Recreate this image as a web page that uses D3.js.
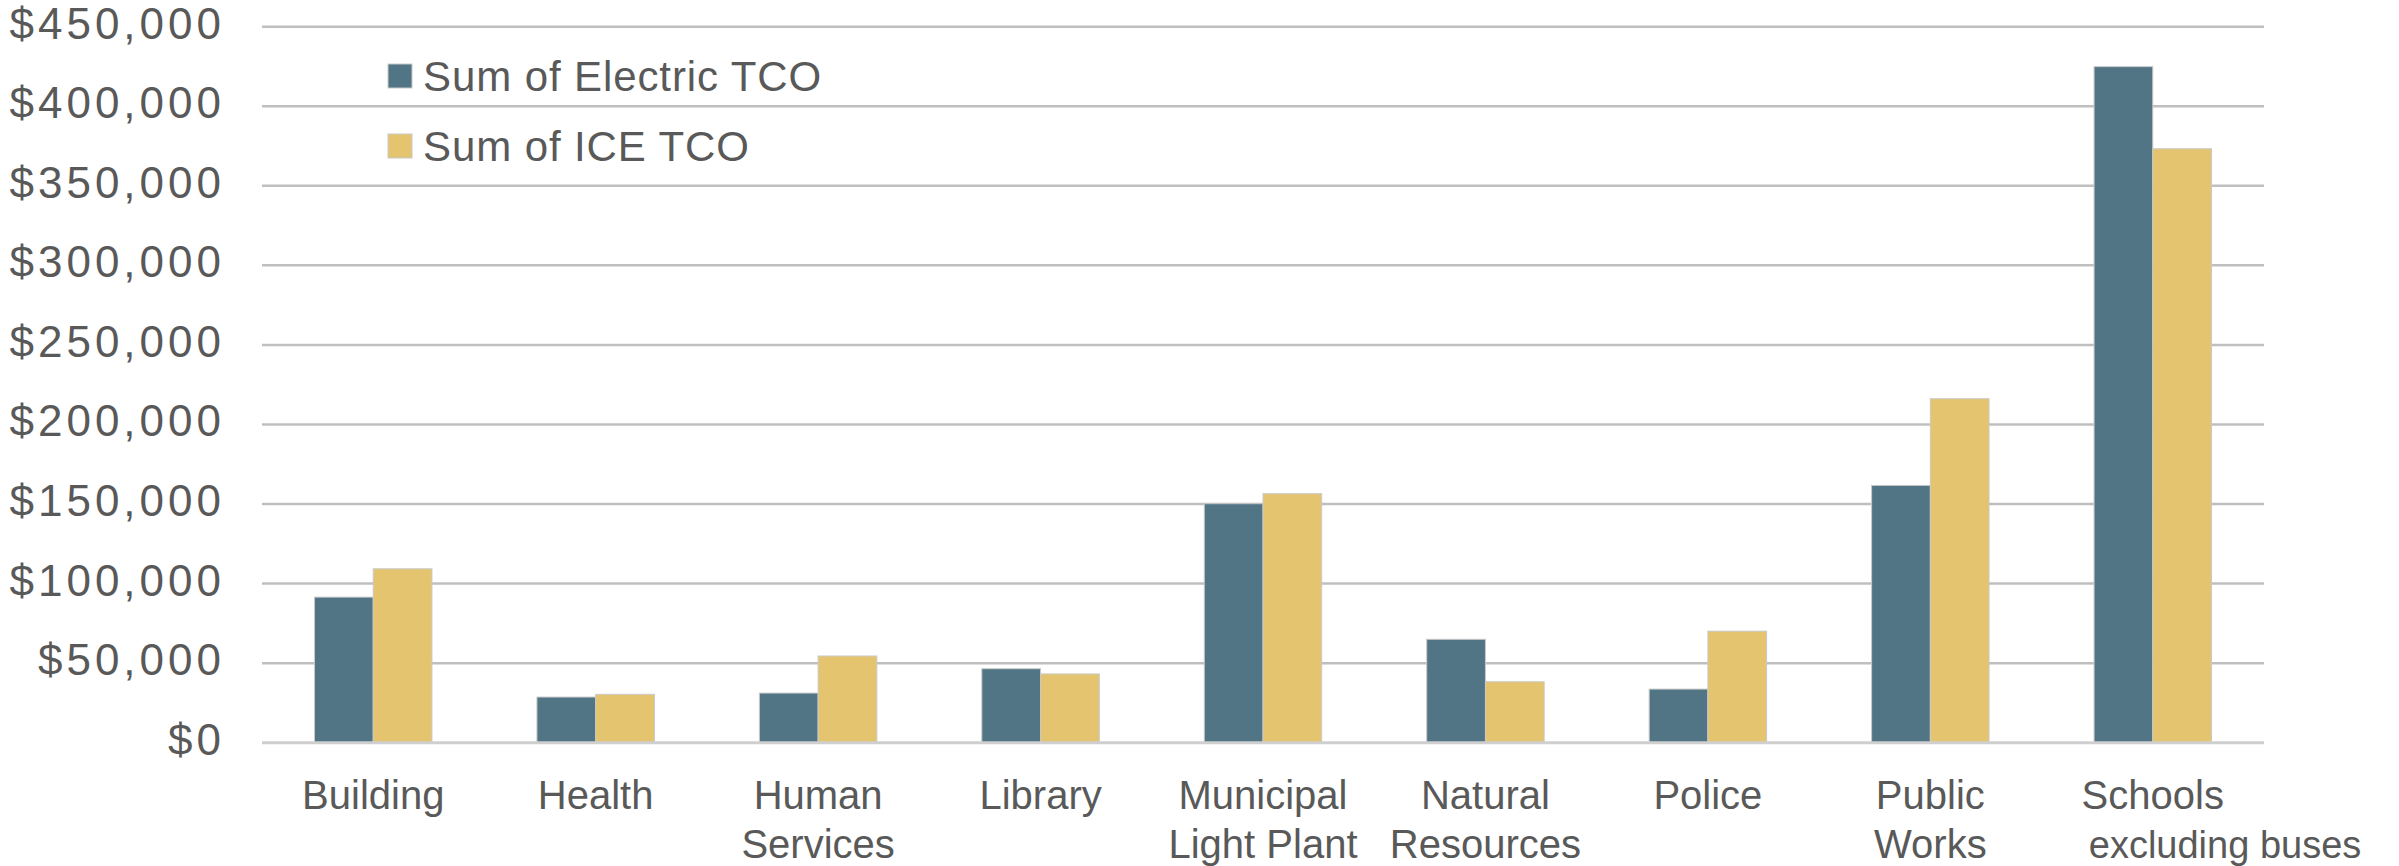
<!DOCTYPE html>
<html>
<head>
<meta charset="utf-8">
<script src="https://cdn.jsdelivr.net/npm/d3@7"></script>
<style>
  html, body { margin: 0; padding: 0; background: #ffffff; }
  svg { display: block; }
  text { font-family: "Liberation Sans", Arial, sans-serif; fill: #595959; }
</style>
</head>
<body>
<svg id="chart" width="2399" height="866"></svg>
<script>
// Departments and their labels (broken over lines as on the axis)
const categories = ["Building", "Health", "Human Services", "Library", "Municipal Light Plant",
                    "Natural Resources", "Police", "Public Works", "Schools excluding buses"];
const categoryLines = [["Building"], ["Health"], ["Human", "Services"], ["Library"],
                       ["Municipal", "Light Plant"], ["Natural", "Resources"], ["Police"],
                       ["Public", "Works"], ["Schools", "excluding buses"]];

// Total cost of ownership per department
const seriesNames = ["Sum of Electric TCO", "Sum of ICE TCO"];
const electricTCO = [91500, 28700, 31200, 46500, 150200, 65000, 33700, 161700, 424900];
const iceTCO      = [109300, 30400, 54500, 43200, 156500, 38300, 70100, 216200, 373300];
const seriesColors = ["#527586", "#E4C46E"];

// Value axis
const yMax = 450000;
const yTickStep = 50000;

const svg = d3.select("#chart");
const plot = { left: 262, right: 2264, top: 26.7, bottom: 742.7 };

const x = d3.scaleBand()
  .domain(categories)
  .range([plot.left, plot.right])
  .paddingInner(0.472)
  .paddingOuter(0.236);

const xSeries = d3.scaleBand()
  .domain(seriesNames)
  .range([0, x.bandwidth()])
  .padding(0);

const y = d3.scaleLinear()
  .domain([0, yMax])
  .range([plot.bottom, plot.top]);

const tickValues = d3.range(0, yMax + 1, yTickStep);
const fmt = d3.format("$,.0f");

// Horizontal gridlines
svg.append("g")
  .selectAll("line")
  .data(tickValues.filter(v => v > 0))
  .join("line")
  .attr("x1", plot.left).attr("x2", plot.right)
  .attr("y1", d => y(d)).attr("y2", d => y(d))
  .attr("stroke", "#bfbfbf")
  .attr("stroke-width", 2.5);

// Value labels
svg.append("g")
  .selectAll("text")
  .data(tickValues)
  .join("text")
  .attr("x", 225)
  .attr("y", d => y(d) + 12)
  .attr("text-anchor", "end")
  .attr("font-size", 44)
  .attr("letter-spacing", 4)
  .text(d => fmt(d));

// Bars
const rows = categories.map((c, i) => ({ cat: c, values: [electricTCO[i], iceTCO[i]] }));
const groups = svg.append("g")
  .selectAll("g")
  .data(rows)
  .join("g")
  .attr("transform", d => `translate(${x(d.cat)},0)`);

groups.selectAll("rect")
  .data(d => d.values.map((v, k) => ({ name: seriesNames[k], value: v, k })))
  .join("rect")
  .attr("x", d => xSeries(d.name))
  .attr("width", xSeries.bandwidth())
  .attr("y", d => y(d.value))
  .attr("height", d => y(0) - y(d.value))
  .attr("fill", d => seriesColors[d.k])
  .attr("stroke", "#c9c9c9")
  .attr("stroke-width", 1);

// Category axis line
svg.append("line")
  .attr("x1", plot.left).attr("x2", plot.right)
  .attr("y1", y(0)).attr("y2", y(0))
  .attr("stroke", "#cfcfcf")
  .attr("stroke-width", 3);

// Category labels
const labels = svg.append("g")
  .selectAll("g")
  .data(categories.map((c, i) => ({ cat: c, lines: categoryLines[i] })))
  .join("g")
  .attr("transform", d => `translate(${x(d.cat) + x.bandwidth() / 2},0)`);

labels.each(function (d) {
  const g = d3.select(this);
  d.lines.forEach((line, j) => {
    const sub = line.startsWith("excluding");
    g.append("text")
      .attr("x", sub ? -64 : 0)
      .attr("y", 809 + j * 49)
      .attr("text-anchor", sub ? "start" : "middle")
      .attr("font-size", sub ? 38 : 40)
      .text(line);
  });
});

// Legend
const legend = svg.append("g")
  .selectAll("g")
  .data(seriesNames)
  .join("g")
  .attr("transform", (d, i) => `translate(388,${64 + i * 70})`);

legend.append("rect")
  .attr("width", 24).attr("height", 24)
  .attr("fill", (d, i) => seriesColors[i])
  .attr("stroke", "#c9c9c9")
  .attr("stroke-width", 1);

legend.append("text")
  .attr("x", 35)
  .attr("y", 26.5)
  .attr("font-size", 42)
  .attr("letter-spacing", 0.9)
  .text(d => d);
</script>
</body>
</html>
